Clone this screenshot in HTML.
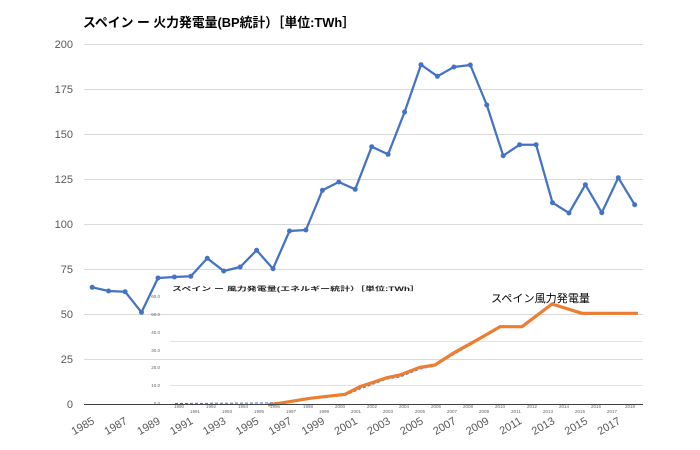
<!DOCTYPE html>
<html><head><meta charset="utf-8"><style>
html,body{margin:0;padding:0;background:#fff;}
svg{display:block;}
text{font-family:"Liberation Sans","Noto Sans CJK JP",sans-serif;}
</style></head><body>
<svg width="700" height="450" viewBox="0 0 700 450" xmlns="http://www.w3.org/2000/svg">
<rect width="700" height="450" fill="#fff"/>
<text x="83" y="27" font-size="13" font-weight="bold" fill="#000" textLength="272" lengthAdjust="spacingAndGlyphs">スペイン ー 火力発電量(BP統計）［単位:TWh］</text>
<g stroke="#D9D9D9" stroke-width="1">
<line x1="84" y1="44.5" x2="643" y2="44.5"/>
<line x1="84" y1="89.5" x2="643" y2="89.5"/>
<line x1="84" y1="134.5" x2="643" y2="134.5"/>
<line x1="84" y1="179.5" x2="643" y2="179.5"/>
<line x1="84" y1="224.5" x2="643" y2="224.5"/>
<line x1="84" y1="269.5" x2="643" y2="269.5"/>
<line x1="84" y1="314.5" x2="643" y2="314.5"/>
<line x1="84" y1="359.5" x2="643" y2="359.5"/>
</g>
<g font-size="11" fill="#595959" text-anchor="end">
<text x="73" y="48">200</text>
<text x="73" y="93">175</text>
<text x="73" y="138">150</text>
<text x="73" y="183">125</text>
<text x="73" y="228">100</text>
<text x="73" y="273">75</text>
<text x="73" y="318">50</text>
<text x="73" y="363">25</text>
<text x="73" y="408">0</text>
</g>
<!-- overlay chart -->
<g stroke="#E3E3E3" stroke-width="1">
<line x1="170" y1="341.5" x2="643" y2="341.5"/>
<line x1="170" y1="385.5" x2="643" y2="385.5"/>
</g>
<text x="172" y="291" font-size="6" font-weight="bold" fill="#222" textLength="248" lengthAdjust="spacingAndGlyphs">スペイン ー 風力発電量(エネルギー統計）［単位:TWh］</text>
<g font-size="4.5" fill="#666" text-anchor="end">
<text x="160" y="298">60.0</text>
<text x="160" y="316">50.0</text>
<text x="160" y="334">40.0</text>
<text x="160" y="352">30.0</text>
<text x="160" y="369">20.0</text>
<text x="160" y="387">10.0</text>
<text x="160" y="405">0.0</text>
</g>
<g font-size="4.5" fill="#666" text-anchor="middle">
<text x="179" y="408">1990</text><text x="195" y="413">1991</text>
<text x="211" y="408">1992</text><text x="227" y="413">1993</text>
<text x="243" y="408">1994</text><text x="259" y="413">1995</text>
<text x="275" y="408">1996</text><text x="291" y="413">1997</text>
<text x="308" y="408">1998</text><text x="324" y="413">1999</text>
<text x="340" y="408">2000</text><text x="356" y="413">2001</text>
<text x="372" y="408">2002</text><text x="388" y="413">2003</text>
<text x="404" y="408">2004</text><text x="420" y="413">2005</text>
<text x="436" y="408">2006</text><text x="452" y="413">2007</text>
<text x="468" y="408">2008</text><text x="484" y="413">2009</text>
<text x="500" y="408">2010</text><text x="516" y="413">2011</text>
<text x="532" y="408">2012</text><text x="548" y="413">2013</text>
<text x="564" y="408">2014</text><text x="580" y="413">2015</text>
<text x="596" y="408">2016</text><text x="612" y="413">2017</text>
<text x="630" y="408">2018</text>
</g>
<text x="491" y="302" font-size="11" fill="#000" textLength="99" lengthAdjust="spacingAndGlyphs">スペイン風力発電量</text>
<polyline fill="none" stroke="#4472C4" stroke-width="1" stroke-dasharray="3,2" points="175,403.5 268,403 283,402 310,399 345,395.5 360,389 387,379 400,377 420,369 435,366 453,355 480,339.5 500,325.5 522,327 552,304.5 582,314.5 638,313.5"/>
<polyline fill="none" stroke="#ED7D31" stroke-width="3.2" stroke-linejoin="round" points="268,405 283,402.7 310,398.3 345,394.3 360,386.7 387,377.7 400,375 420,367.3 435,365 453,353.3 480,338.3 500,326.7 522,326.7 552,304 582,313.3 638,313.3"/>
<!-- axis -->
<line x1="84" y1="404.5" x2="643" y2="404.5" stroke="#404040" stroke-width="1"/>
<!-- main series -->
<polyline fill="none" stroke="#4472C4" stroke-width="2.25" stroke-linejoin="round" points="92.2,287.3 108.6,291 125.1,291.7 141.5,312.3 158,278 174.4,277 190.8,276.3 207.3,258.3 223.7,271 240.2,267 256.6,250.3 273,268.7 289.5,231 305.9,230 322.4,190.3 338.8,182 355.2,189.3 371.7,146.7 388.1,154.3 404.6,112 421,64.7 437.4,76.3 453.9,67 470.3,65 486.8,105 503.2,155.7 519.6,144.7 536.1,144.7 552.5,202.7 569,213 585.4,184.7 601.8,212.7 618.3,177.7 634.7,204.7"/>
<g fill="#4472C4">
<circle cx="92.2" cy="287.3" r="2.5"/><circle cx="108.6" cy="291" r="2.5"/><circle cx="125.1" cy="291.7" r="2.5"/><circle cx="141.5" cy="312.3" r="2.5"/><circle cx="158" cy="278" r="2.5"/><circle cx="174.4" cy="277" r="2.5"/><circle cx="190.8" cy="276.3" r="2.5"/><circle cx="207.3" cy="258.3" r="2.5"/><circle cx="223.7" cy="271" r="2.5"/><circle cx="240.2" cy="267" r="2.5"/><circle cx="256.6" cy="250.3" r="2.5"/><circle cx="273" cy="268.7" r="2.5"/><circle cx="289.5" cy="231" r="2.5"/><circle cx="305.9" cy="230" r="2.5"/><circle cx="322.4" cy="190.3" r="2.5"/><circle cx="338.8" cy="182" r="2.5"/><circle cx="355.2" cy="189.3" r="2.5"/><circle cx="371.7" cy="146.7" r="2.5"/><circle cx="388.1" cy="154.3" r="2.5"/><circle cx="404.6" cy="112" r="2.5"/><circle cx="421" cy="64.7" r="2.5"/><circle cx="437.4" cy="76.3" r="2.5"/><circle cx="453.9" cy="67" r="2.5"/><circle cx="470.3" cy="65" r="2.5"/><circle cx="486.8" cy="105" r="2.5"/><circle cx="503.2" cy="155.7" r="2.5"/><circle cx="519.6" cy="144.7" r="2.5"/><circle cx="536.1" cy="144.7" r="2.5"/><circle cx="552.5" cy="202.7" r="2.5"/><circle cx="569" cy="213" r="2.5"/><circle cx="585.4" cy="184.7" r="2.5"/><circle cx="601.8" cy="212.7" r="2.5"/><circle cx="618.3" cy="177.7" r="2.5"/><circle cx="634.7" cy="204.7" r="2.5"/>
</g>
<g font-size="11" fill="#595959" text-anchor="end">
<text transform="translate(95.2,423) rotate(-30)">1985</text>
<text transform="translate(128.1,423) rotate(-30)">1987</text>
<text transform="translate(161,423) rotate(-30)">1989</text>
<text transform="translate(193.8,423) rotate(-30)">1991</text>
<text transform="translate(226.7,423) rotate(-30)">1993</text>
<text transform="translate(259.6,423) rotate(-30)">1995</text>
<text transform="translate(292.5,423) rotate(-30)">1997</text>
<text transform="translate(325.4,423) rotate(-30)">1999</text>
<text transform="translate(358.2,423) rotate(-30)">2001</text>
<text transform="translate(391.1,423) rotate(-30)">2003</text>
<text transform="translate(424,423) rotate(-30)">2005</text>
<text transform="translate(456.9,423) rotate(-30)">2007</text>
<text transform="translate(489.8,423) rotate(-30)">2009</text>
<text transform="translate(522.6,423) rotate(-30)">2011</text>
<text transform="translate(555.5,423) rotate(-30)">2013</text>
<text transform="translate(588.4,423) rotate(-30)">2015</text>
<text transform="translate(621.3,423) rotate(-30)">2017</text>
</g>
</svg>
</body></html>
